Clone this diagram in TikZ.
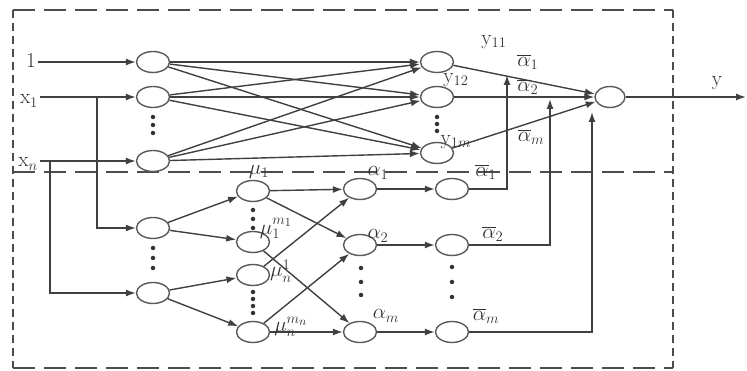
\documentclass[tikz,border=0pt]{standalone}
\usepackage{graphicx}
\usetikzlibrary{shapes.geometric,arrows.meta}
\newcommand{\biglbl}[1]{\scalebox{1.22}{#1}}
\begin{document}
\begin{tikzpicture}[x=1pt,y=-1pt,
  neuron/.style={ellipse,draw=black!65,line width=1.4pt,minimum width=33pt,minimum height=21pt,inner sep=0pt},
  conn/.style={draw=black!75,line width=1.4pt},
  arr/.style={conn,-{Latex[length=10pt,width=7pt]}},
  lab/.style={inner sep=0pt,font=\fontsize{17.28}{20}\selectfont,text=black!80},
  hframe/.style={draw=black!70,line width=1.5pt,dash pattern=on 22pt off 9pt},
  vframe/.style={draw=black!70,line width=1.6pt,dash pattern=on 8pt off 5pt},
  dot/.style={circle,fill=black!80,inner sep=0pt,minimum size=4.5pt}]
\useasboundingbox (0,0) rectangle (747,371);
% frame
\coordinate (tl) at (13,10); \coordinate (tr) at (673,10);
\coordinate (bl) at (13,368); \coordinate (br) at (673,368);
\coordinate (sl) at (13,172); \coordinate (sr) at (673,172);
\draw[hframe] (tl) -- (tr);
\draw[hframe] (bl) -- (br);
\draw[hframe] (sl) -- (sr);
\draw[vframe] (tl) -- (bl);
\draw[vframe] (tr) -- (br);
% nodes
\node[neuron] (a0) at (153,62) {};
\node[neuron] (a1) at (153,97) {};
\node[neuron] (an) at (153,161) {};
\node[neuron] (b1) at (153,228) {};
\node[neuron] (bn) at (153,293) {};
\node[neuron] (u11) at (253,191) {};
\node[neuron] (u1m) at (253,242) {};
\node[neuron] (un1) at (253,275) {};
\node[neuron] (unm) at (253,332) {};
\node[neuron] (al1) at (360,189) {};
\node[neuron] (al2) at (360,245) {};
\node[neuron] (alm) at (360,332) {};
\node[neuron] (ab1) at (452,189) {};
\node[neuron] (ab2) at (452,245) {};
\node[neuron] (abm) at (452,332) {};
\node[neuron] (y1) at (437,62) {};
\node[neuron] (y2) at (437,97) {};
\node[neuron] (ym) at (437,153) {};
\node[neuron,minimum width=30pt] (out) at (610,97) {};
% input labels
\node[lab] (l1) at (31,61) {\biglbl{1}};
\node[lab] (lx1) at (29,101) {\biglbl{$\mathrm{x}_1$}};
\node[lab] (lxn) at (28,164) {\biglbl{$\mathrm{x}_n$}};
\coordinate (s0) at (38,62);
\coordinate (s1) at (40,97);
\coordinate (sn) at (40,161);
\coordinate (j1) at (97,97);
\coordinate (jn) at (50,161);
\draw[arr] (s0) -- (a0);
\draw[arr] (s1) -- (a1);
\draw[arr] (sn) -- (an);
\draw[arr] (j1) |- (b1);
\draw[arr] (jn) |- (bn);
% upper network
\foreach \s in {a0,a1,an}{
  \foreach \t in {y1,y2,ym}{
    \draw[arr] (\s) -- (\t);
  }
}
\draw[arr] (y1) -- (out);
\draw[arr] (y2) -- (out);
\draw[arr] (ym) -- (out);
% lower network
\draw[arr] (b1) -- (u11);
\draw[arr] (b1) -- (u1m);
\draw[arr] (bn) -- (un1);
\draw[arr] (bn) -- (unm);
\draw[arr] (u11) -- (al1);
\draw[arr] (u11) -- (al2);
\draw[arr] (u1m) -- (alm);
\draw[arr] (un1) -- (al1);
\draw[arr] (unm) -- (al2);
\draw[arr] (unm) -- (alm);
\draw[arr] (al1) -- (ab1);
\draw[arr] (al2) -- (ab2);
\draw[arr] (alm) -- (abm);
\coordinate (t1) at (507,75);
\coordinate (t2) at (550,99);
\coordinate (tm) at (592,112);
\draw[arr] (ab1) -| (t1);
\draw[arr] (ab2) -| (t2);
\draw[arr] (abm) -| (tm);
\coordinate (yend) at (746,97);
\draw[arr] (out) -- (yend);
% dots
\foreach \yy in {117,125,133} \node[dot] at (153,\yy) {};
\foreach \yy in {248,258,268} \node[dot] at (153,\yy) {};
\foreach \yy in {210,219,228} \node[dot] at (253,\yy) {};
\foreach \yy in {292,299,306,313} \node[dot] at (253,\yy) {};
\foreach \yy in {268,282,295} \node[dot] at (361,\yy) {};
\foreach \yy in {267,282,297} \node[dot] at (452,\yy) {};
\foreach \yy in {117,124,131} \node[dot] at (437,\yy) {};
% labels
\node[lab] (lu11) at (259,172) {\biglbl{$\mu_1$}};
\node[lab] (lu1m) at (276,228) {\biglbl{$\mu_1^{m_1}$}};
\node[lab] (lun1) at (281,271) {\biglbl{$\mu_n^{1}$}};
\node[lab] (lunm) at (291,327) {\biglbl{$\mu_n^{m_n}$}};
\node[lab] (lal1) at (378,173) {\biglbl{$\alpha_1$}};
\node[lab] (lal2) at (378,236) {\biglbl{$\alpha_2$}};
\node[lab] (lalm) at (386,316) {\biglbl{$\alpha_m$}};
\node[lab] (lab1) at (486,172) {\biglbl{$\overline{\alpha}_1$}};
\node[lab] (lab2) at (493,234) {\biglbl{$\overline{\alpha}_2$}};
\node[lab] (labm) at (486,316) {\biglbl{$\overline{\alpha}_m$}};
\node[lab] (lo1) at (528,62) {\biglbl{$\overline{\alpha}_1$}};
\node[lab] (lo2) at (528,87) {\biglbl{$\overline{\alpha}_2$}};
\node[lab] (lom) at (531,137) {\biglbl{$\overline{\alpha}_m$}};
\node[lab] (ly11) at (494,42) {\biglbl{$\mathrm{y}_{11}$}};
\node[lab] (ly12) at (456,80) {\biglbl{$\mathrm{y}_{12}$}};
\node[lab] (ly1m) at (456,142) {\biglbl{$\mathrm{y}_{1m}$}};
\node[lab] (ly) at (717,83) {\biglbl{y}};
\end{tikzpicture}
\end{document}
